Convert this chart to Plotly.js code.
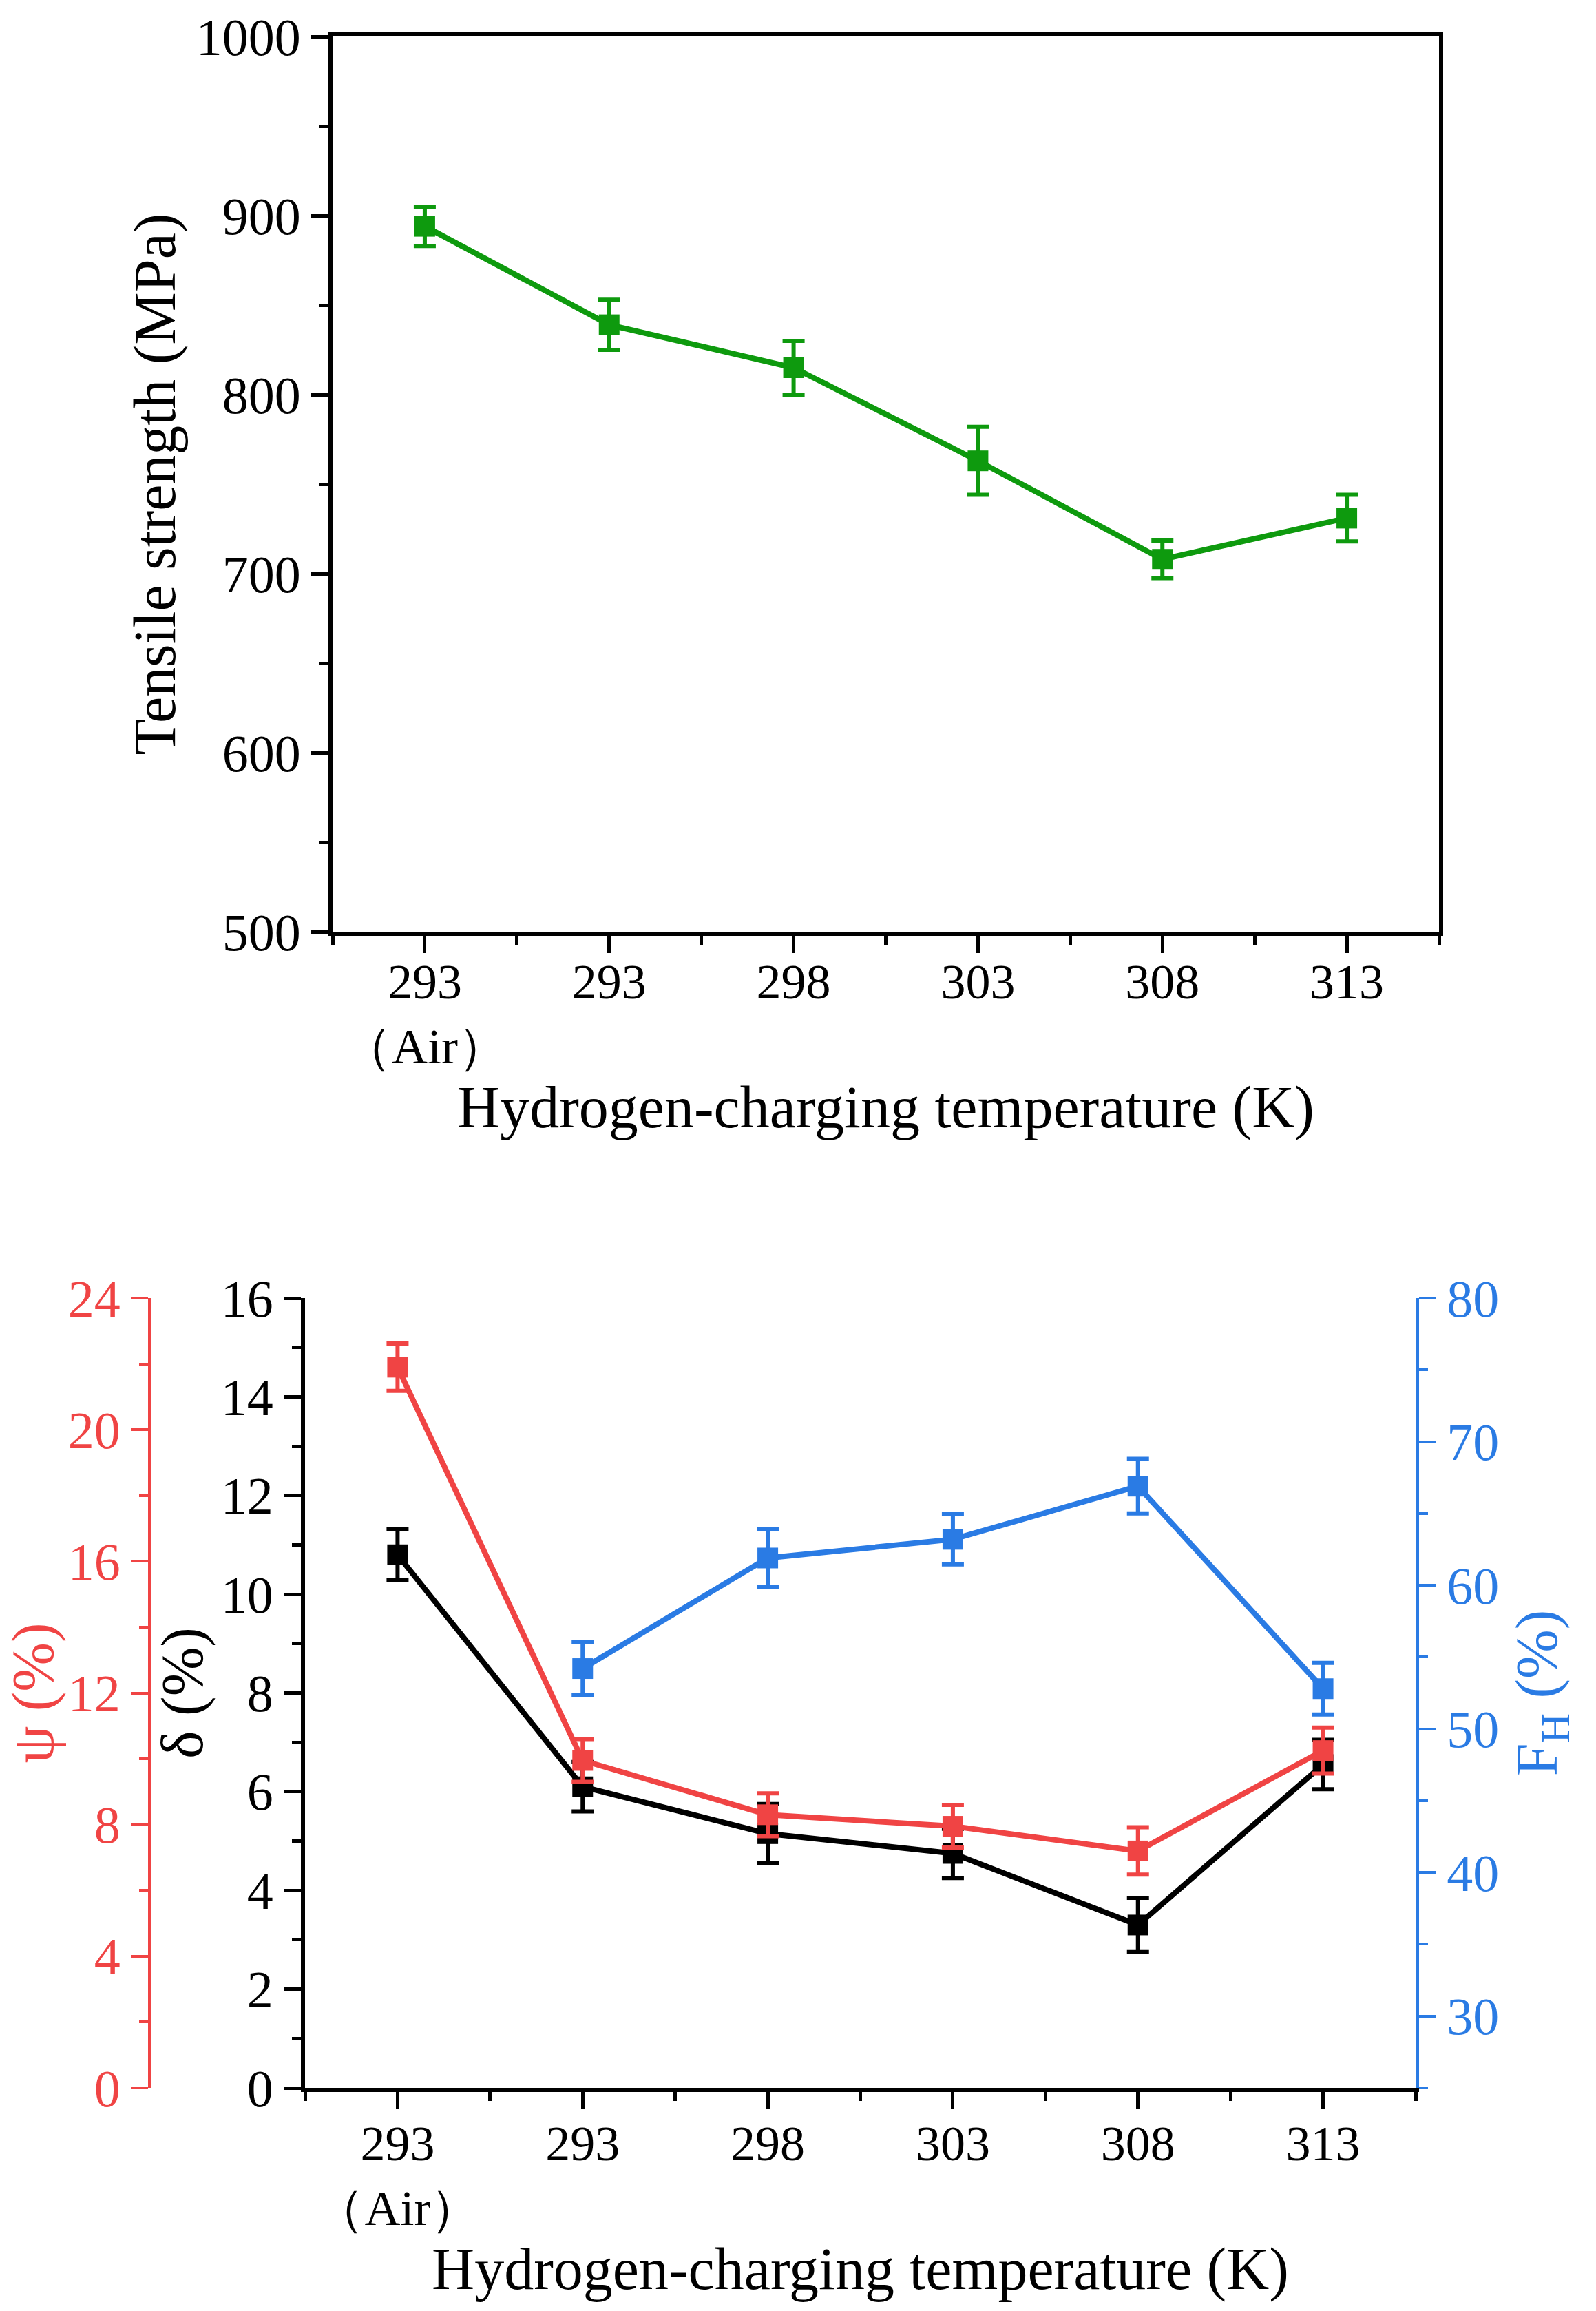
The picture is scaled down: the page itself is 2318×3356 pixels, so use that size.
<!DOCTYPE html>
<html>
<head>
<meta charset="utf-8">
<script src="https://cdn.plot.ly/plotly-3.0.1.min.js"></script>
<style>
html, body { margin: 0; padding: 0; background: #fff; }
#chart { width: 2318px; height: 3356px; }
</style>
</head>
<body>
<div id="chart"></div>
<script>
// x categories (hydrogen-charging temperature, K)
var tempLabels = ['293<br>（Air）', '293', '298', '303', '308', '313'];

// top panel: tensile strength (MPa)
var tensile = [894, 839, 815, 763, 708, 731];
var tensileErr = [11, 14, 15, 19, 10.5, 13];

// bottom panel: elongation delta (%)
var delta = [10.8, 6.1, 5.15, 4.75, 3.3, 6.55];
var deltaErr = [0.52, 0.5, 0.6, 0.5, 0.55, 0.5];

// reduction of area psi (%)
var psi = [21.9, 9.95, 8.3, 7.95, 7.2, 10.25];
var psiErr = [0.72, 0.65, 0.65, 0.65, 0.72, 0.7];

// hydrogen embrittlement index F_H (%), no value for air
var fh = [null, 54.2, 61.9, 63.2, 66.9, 52.8];
var fhErr = [null, 1.85, 2.0, 1.75, 1.9, 1.8];

var xIdx = tempLabels.map(function (d, i) { return i; });

var GREEN = '#0e9a0e';
var RED = '#f04444';
var BLUE = '#2a7be4';
var FONT = 'Liberation Serif, Times New Roman, serif';
var TICK = 76, XTICK = 72, TITLE = 86;

function series(y, err, color, xa, ya) {
  return {
    x: xIdx, y: y, xaxis: xa, yaxis: ya,
    type: 'scatter', mode: 'lines+markers',
    line: {color: color, width: 8},
    marker: {symbol: 'square', size: 30, color: color},
    error_y: {type: 'data', array: err, visible: true, color: color, thickness: 6, width: 16},
    hoverinfo: 'skip'
  };
}

var trace1 = series(tensile, tensileErr, GREEN, 'x', 'y');
var trace2 = series(delta, deltaErr, '#000000', 'x2', 'y2');
var trace3 = series(psi, psiErr, RED, 'x2', 'y3');
var trace4 = series(fh, fhErr, BLUE, 'x2', 'y4');

var W = 2318, H = 3356;

function xAxis(dom, anchor, titleText, labelShift, titleGap) {
  return {
    domain: dom, anchor: anchor, range: [-0.5, 5.5],
    tickmode: 'array', tickvals: xIdx, ticktext: tempLabels,
    ticks: 'outside', ticklen: 25, tickwidth: 5, tickcolor: '#000',
    showline: true, linewidth: 6, linecolor: '#000',
    showgrid: false, zeroline: false,
    tickfont: {size: XTICK, family: FONT, color: '#000'},
    ticklabelstandoff: labelShift,
    minor: {ticks: 'outside', ticklen: 13, tickwidth: 5, tickcolor: '#000', tickmode: 'linear', tick0: -0.5, dtick: 1},
    title: {text: titleText, font: {size: TITLE, family: FONT, color: '#000'}, standoff: titleGap}
  };
}

var layout = {
  width: W, height: H,
  margin: {l: 0, r: 0, t: 0, b: 0},
  paper_bgcolor: '#fff', plot_bgcolor: 'rgba(0,0,0,0)',
  showlegend: false,
  font: {family: FONT, size: TICK, color: '#000'},

  // top chart
  xaxis: Object.assign(xAxis([483 / W, 2090 / W], 'y', 'Hydrogen-charging temperature (K)', -20, 0), {mirror: true}),
  yaxis: {
    domain: [1 - 1353 / H, 1 - 53 / H], anchor: 'x', range: [500, 1000],
    tick0: 500, dtick: 100,
    ticks: 'outside', ticklen: 25, tickwidth: 5, tickcolor: '#000',
    showline: true, linewidth: 6, linecolor: '#000', mirror: true,
    showgrid: false, zeroline: false,
    tickfont: {size: TICK, family: FONT, color: '#000'},
    minor: {ticks: 'outside', ticklen: 13, tickwidth: 5, tickcolor: '#000', dtick: 50},
    title: {text: 'Tensile strength (MPa)', font: {size: TITLE, family: FONT, color: '#000'}, standoff: 4}
  },

  // bottom chart
  xaxis2: xAxis([443 / W, 2056 / W], 'y2', 'Hydrogen-charging temperature (K)', -12, 16),
  xaxis3: {
    domain: [443 / W, 2056 / W], anchor: 'y2', overlaying: 'x2', side: 'top',
    range: [-0.5, 5.5], tickmode: 'array', tickvals: xIdx, showticklabels: false,
    ticks: 'inside', ticklen: 25, tickwidth: 5, tickcolor: '#000',
    showline: true, linewidth: 6, linecolor: '#000',
    showgrid: false, zeroline: false,
    minor: {ticks: 'inside', ticklen: 13, tickwidth: 5, tickcolor: '#000', tickmode: 'linear', tick0: -0.5, dtick: 1}
  },
  yaxis2: {
    domain: [1 - 3032 / H, 1 - 1885 / H], anchor: 'x2', range: [0, 16],
    tick0: 0, dtick: 2,
    ticks: 'outside', ticklen: 25, tickwidth: 5, tickcolor: '#000',
    showline: true, linewidth: 6, linecolor: '#000',
    showgrid: false, zeroline: false,
    tickfont: {size: TICK, family: FONT, color: '#000'},
    minor: {ticks: 'outside', ticklen: 13, tickwidth: 5, tickcolor: '#000', dtick: 1},
    title: {text: 'δ (%)', font: {size: TITLE, family: FONT, color: '#000'}, standoff: 0}
  },
  yaxis3: {
    overlaying: 'y2', anchor: 'free', position: 217 / W, side: 'left',
    range: [0, 24], tick0: 0, dtick: 4,
    ticks: 'outside', ticklen: 25, tickwidth: 4, tickcolor: RED,
    showline: true, linewidth: 5, linecolor: RED,
    showgrid: false, zeroline: false,
    tickfont: {size: TICK, family: FONT, color: RED},
    minor: {ticks: 'outside', ticklen: 13, tickwidth: 4, tickcolor: RED, dtick: 2},
    title: {text: 'ψ (%)', font: {size: TITLE, family: FONT, color: RED}, standoff: 0}
  },
  yaxis4: {
    overlaying: 'y2', anchor: 'x2', side: 'right',
    range: [25, 80], tick0: 0, dtick: 10,
    ticks: 'outside', ticklen: 25, tickwidth: 4, tickcolor: BLUE,
    showline: true, linewidth: 5, linecolor: BLUE,
    showgrid: false, zeroline: false,
    tickfont: {size: TICK, family: FONT, color: BLUE},
    minor: {ticks: 'outside', ticklen: 13, tickwidth: 4, tickcolor: BLUE, tick0: 25, dtick: 10},
    title: {text: 'F<sub>H</sub> (%)', font: {size: TITLE, family: FONT, color: BLUE}, standoff: 26}
  }
};

Plotly.newPlot('chart', [trace1, trace2, trace3, trace4], layout, {staticPlot: true});
</script>
</body>
</html>
